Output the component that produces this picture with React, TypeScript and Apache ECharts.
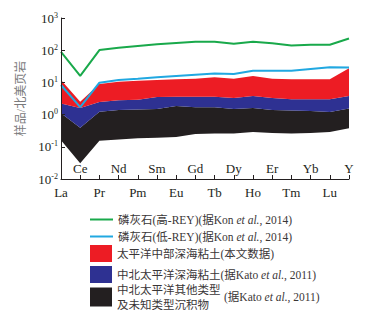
import React, { useEffect, useRef } from 'react';
import * as echarts from 'echarts';

const elements = ['La', 'Ce', 'Pr', 'Nd', 'Pm', 'Sm', 'Eu', 'Gd', 'Tb', 'Dy', 'Ho', 'Er', 'Tm', 'Yb', 'Lu', 'Y'];
const highREY = [89, 16, 101, 120, 135, 152, 166, 182, 182, 158, 182, 163, 141, 148, 148, 230];
const lowREY = [8.3, 1.7, 9.8, 11.8, 13, 14.4, 15.8, 17.4, 19, 18.2, 23, 23, 23, 26, 29.5, 29];
const redTop = [11.8, 2.5, 8.9, 10.5, 11.2, 11.8, 12.5, 13, 14.4, 13, 15.8, 13, 12.5, 12.5, 12.5, 27.5];
const redBottom = [2.2, 1.6, 2.45, 2.8, 2.9, 3.5, 3.6, 3.6, 3.6, 3.3, 3.8, 3.3, 3.0, 3.0, 3.0, 3.8];
const blueBottom = [1.1, 0.39, 1.23, 1.4, 1.45, 1.5, 1.85, 1.7, 1.7, 1.5, 1.6, 1.4, 1.35, 1.3, 1.2, 1.55];
const blackBottom = [0.16, 0.031, 0.155, 0.17, 0.185, 0.19, 0.2, 0.25, 0.26, 0.26, 0.29, 0.27, 0.26, 0.27, 0.29, 0.38];

const NAME_HIGH = '磷灰石(高-REY)(据Kon et al., 2014)';
const NAME_LOW = '磷灰石(低-REY)(据Kon et al., 2014)';
const NAME_RED = '太平洋中部深海粘土(本文数据)';
const NAME_BLUE = '中北太平洋深海粘土(据Kato et al., 2011)';
const NAME_BLACK = '中北太平洋其他类型及未知类型沉积物(据Kato et al., 2011)';

const FONT = '"Liberation Serif", "Times New Roman", "Noto Sans CJK SC", serif';
const TXT = '#231f20';
const LEG_TXT = '#3a3637';

const richStyles = {
  n: { fontSize: 11.5, fontFamily: FONT, color: LEG_TXT },
  i: { fontSize: 11.5, fontFamily: FONT, color: LEG_TXT, fontStyle: 'italic' as const },
};

function band(name: string, color: string, upper: number[], lower: number[]) {
  return {
    type: 'custom' as const,
    name,
    coordinateSystem: 'cartesian2d',
    itemStyle: { color },
    data: elements.map((_, i) => [i, upper[i], lower[i]]),
    encode: { x: 0, y: [1, 2] },
    z: 1,
    renderItem: (params: any, api: any) => {
      if (params.dataIndex !== 0) return null;
      const pts: number[][] = [];
      for (let i = 0; i < elements.length; i++) pts.push(api.coord([i, upper[i]]));
      for (let i = elements.length - 1; i >= 0; i--) pts.push(api.coord([i, lower[i]]));
      return { type: 'polygon', shape: { points: pts }, style: { fill: color } };
    },
  };
}

function legendItem(name: string, top: number, text: string, isLine: boolean, h?: number) {
  return {
    show: true,
    left: 90,
    top,
    padding: 0,
    orient: 'horizontal' as const,
    itemWidth: isLine ? 23 : 22,
    itemHeight: isLine ? 2 : h || 17,
    data: [{ name, icon: 'rect' }],
    formatter: () => text,
    textStyle: { fontSize: 11.5, fontFamily: FONT, color: LEG_TXT, lineHeight: 15, rich: richStyles },
    selectedMode: false,
  };
}

export default function App() {
  const ref = useRef<HTMLDivElement>(null);
  useEffect(() => {
    document.body.style.margin = '0';
    if (!ref.current) return;
    const chart = echarts.init(ref.current, undefined, { renderer: 'svg' });
    const xLabelBase = { fontSize: 13, fontFamily: FONT, color: TXT };
    chart.setOption({
      animation: false,
      backgroundColor: '#ffffff',
      grid: { left: 61, right: 30, top: 18, bottom: 139, containLabel: false },
      xAxis: [
        {
          type: 'category',
          data: elements,
          boundaryGap: false,
          position: 'bottom',
          z: 10,
          axisLine: { show: true, lineStyle: { color: TXT, width: 1 } },
          axisTick: { show: true, inside: true, length: 4, interval: 0, lineStyle: { color: TXT } },
          axisLabel: { ...xLabelBase, margin: 7, interval: (i: number) => i % 2 === 0 },
          splitLine: { show: false },
        },
        {
          type: 'category',
          data: elements,
          boundaryGap: false,
          position: 'bottom',
          offset: 0,
          z: 10,
          axisLine: { show: false },
          axisTick: { show: false },
          axisLabel: { ...xLabelBase, inside: true, margin: 4, interval: (i: number) => i % 2 === 1 },
          splitLine: { show: false },
        },
      ],
      yAxis: {
        type: 'log',
        logBase: 10,
        min: 0.01,
        max: 1000,
        z: 10,
        name: '样品/北美页岩',
        nameLocation: 'middle',
        nameRotate: 90,
        nameGap: 18,
        nameTextStyle: { fontSize: 12, fontFamily: FONT, color: '#7a7a7c' },
        axisLine: { show: true, lineStyle: { color: TXT, width: 1 } },
        axisTick: { show: true, inside: true, length: 4, lineStyle: { color: TXT } },
        splitLine: { show: false },
        minorTick: { show: false },
        axisLabel: {
          margin: 3,
          formatter: (v: number) => `{b|10}{s|${Math.round(Math.log10(v))}}`,
          rich: {
            b: { fontSize: 13, fontFamily: FONT, color: TXT, lineHeight: 14 },
            s: { fontSize: 8, fontFamily: FONT, color: TXT, verticalAlign: 'top', lineHeight: 9 },
          },
        },
      },
      legend: [
        legendItem(NAME_HIGH, 212, '{n|磷灰石(高-REY)(据Kon }{i|et al.}{n|, 2014)}', true),
        legendItem(NAME_LOW, 229, '{n|磷灰石(低-REY)(据Kon }{i|et al.}{n|, 2014)}', true),
        legendItem(NAME_RED, 245, '{n|太平洋中部深海粘土(本文数据)}', false),
        legendItem(NAME_BLUE, 266, '{n|中北太平洋深海粘土(据Kato }{i|et al.}{n|, 2011)}', false),
        legendItem(NAME_BLACK, 282, '中北太平洋其他类型\n及未知类型沉积物', false, 19),
      ],
      graphic: [
        {
          type: 'text',
          left: 224,
          top: 291,
          style: {
            text: '{n|(据Kato }{i|et al.}{n|, 2011)}',
            rich: richStyles,
            fill: LEG_TXT,
          },
        },
      ],
      series: [
        band(NAME_BLACK, '#231f20', blueBottom, blackBottom),
        band(NAME_BLUE, '#2e3192', redBottom, blueBottom),
        band(NAME_RED, '#ed1c24', redTop, redBottom),
        {
          type: 'line',
          name: NAME_HIGH,
          data: highREY,
          symbol: 'none',
          z: 3,
          color: '#19a94b',
          lineStyle: { color: '#19a94b', width: 2 },
        },
        {
          type: 'line',
          name: NAME_LOW,
          data: lowREY,
          symbol: 'none',
          z: 3,
          color: '#21a8e1',
          lineStyle: { color: '#21a8e1', width: 2 },
        },
      ],
    });
    return () => chart.dispose();
  }, []);
  return <div ref={ref} style={{ position: 'fixed', left: 0, top: 0, width: 379, height: 318 }} />;
}
